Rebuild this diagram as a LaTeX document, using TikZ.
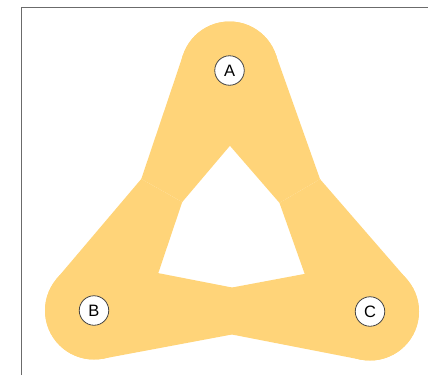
\documentclass[tikz,border=0pt]{standalone}
\usepackage{fontspec}
\setsansfont{Liberation Sans}
\usepackage{tikz}
\usetikzlibrary{calc}
\definecolor{hgBand}{HTML}{FFD479}
\definecolor{hgFrame}{HTML}{6B6B6B}
\definecolor{hgRim}{HTML}{444444}
\tikzset{
  hg diagram/.style={font=\sffamily, x=1pt, y=-1pt, line join=round},
  hg vertex/.style={circle, draw=hgRim, fill=white, line width=0.8pt,
    minimum size=29.5pt, inner sep=0pt, font=\sffamily\fontsize{16.5}{16.5}\selectfont},
  hg hull/.style={circle, minimum size=98pt, inner sep=0pt, outer sep=0pt},
  hg band/.style={fill=hgBand, draw=none},
  hg frame/.style={draw=hgFrame, line width=0.9pt}
}
\begin{document}
\begin{tikzpicture}[hg diagram]
\useasboundingbox (0,0) rectangle (428,375);
\draw[hg frame] (21,375) -- (21,7) -- (428,7);
% hull circles round the three vertices
\foreach \name/\x/\y in {A/229.5/70.5,B/94/310.5,C/370/311.5}
  \node[hg hull] (h\name) at (\x,\y) {};
% one tapered band for each pair of vertices
\foreach \u/\v in {A/B,B/C,C/A}{
  \coordinate (w1) at ($(h\u.center)!0.5!(h\v.center)!23.5pt!90:(h\v.center)$);
  \coordinate (w2) at ($(h\u.center)!0.5!(h\v.center)!23.5pt!-90:(h\v.center)$);
  \foreach \e in {\u,\v}{
    \fill[hg band] (h\e.center) circle (49pt);
    \fill[hg band] (h\e.center) -- (w1) -- (w2) -- cycle;
    \foreach \w in {w1,w2}
      \fill[hg band] (h\e.center)
        -- (tangent cs:node=h\e,point={(\w)},solution=1) -- (\w)
        -- (tangent cs:node=h\e,point={(\w)},solution=2) -- cycle;
  }
}
\foreach \name in {A,B,C}
  \node[hg vertex] (\name) at (h\name.center) {\name};
\end{tikzpicture}
\end{document}
